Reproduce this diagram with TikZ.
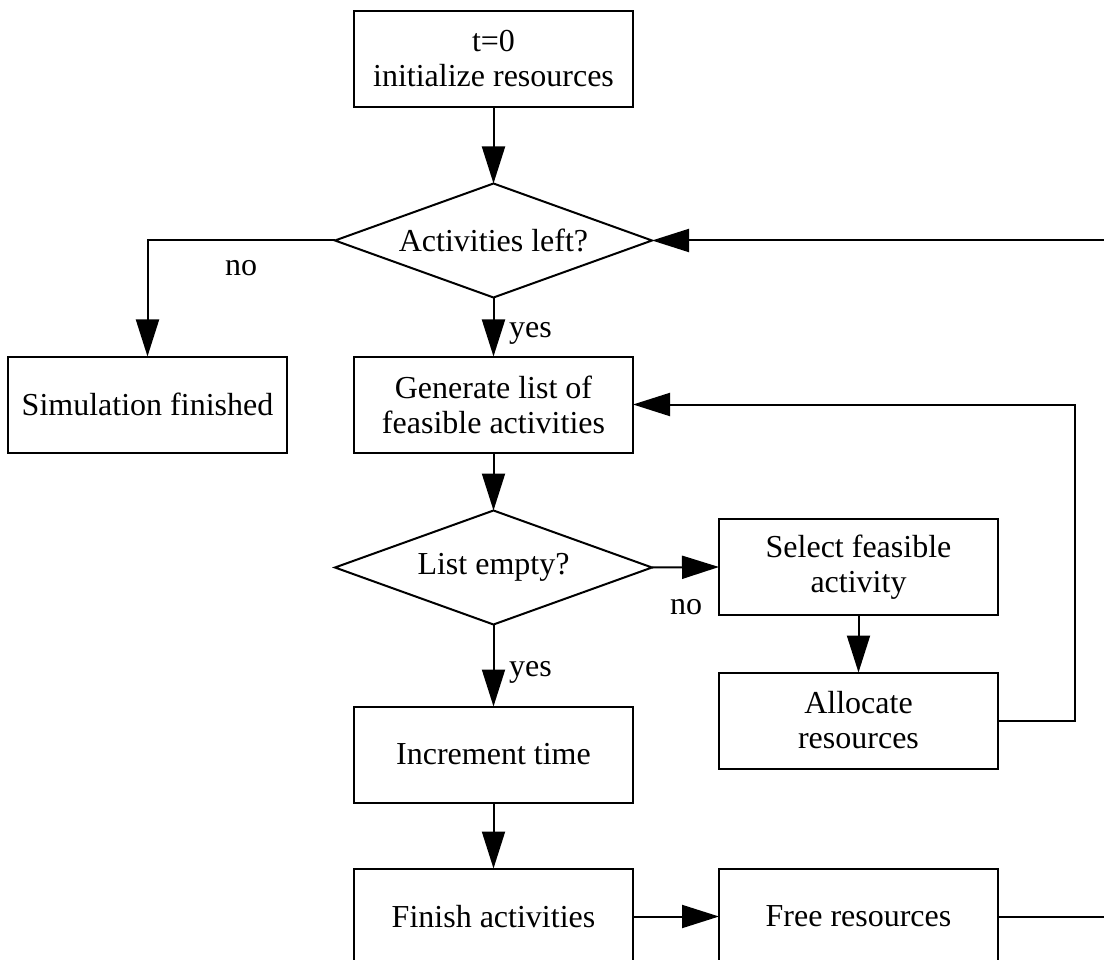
\documentclass[tikz,border=0pt]{standalone}
\usepackage{fontspec}
\setmainfont{Liberation Serif}
\usetikzlibrary{arrows.meta,shapes.geometric}
\begin{document}
\begin{tikzpicture}[x=1pt,y=-1pt,
  every node/.style={font=\fontsize{32}{35}\selectfont},
  box/.style={draw, line width=2pt, minimum width=279pt, minimum height=96pt,
    align=center, inner sep=0pt, outer sep=0pt},
  decision/.style={draw, diamond, aspect=2.78, line width=2pt, minimum width=317pt,
    minimum height=114pt, inner sep=0pt, outer sep=0pt, align=center},
  arr/.style={line width=2pt, -{Triangle[length=37pt,width=23pt]}},
  lbl/.style={inner sep=0pt}]
  \useasboundingbox (0,0) rectangle (1104,960);
  \clip (0,0) rectangle (1104,960);

  % process steps and decisions
  \node[box] (init) at (493.5,59) {t=0\\initialize resources};
  \node[decision] (d1) at (493.5,240.5) {Activities left?};
  \node[box] (sim) at (147.5,404.5) {Simulation finished};
  \node[box] (gen) at (493.5,404.5) {Generate list of\\feasible activities};
  \node[decision] (d2) at (493.5,567.5) {List empty?};
  \node[box] (sel) at (858.5,567) {Select feasible\\activity};
  \node[box] (alloc) at (858.5,720.5) {Allocate\\resources};
  \node[box] (inc) at (493.5,754.5) {Increment time};
  \node[box] (fin) at (493.5,916.5) {Finish activities};
  \node[box] (free) at (858.5,916.5) {Free resources};
  \coordinate (ret) at (1140,916.5);

  % connectors
  \draw[arr] (init) -- (d1);
  \draw[arr] (d1.west) -| (sim.north);
  \draw[arr] (d1) -- (gen);
  \draw[arr] (gen) -- (d2);
  \draw[arr] (d2.east) -- (sel.west);
  \draw[arr] (sel) -- (alloc);
  \draw[arr] (alloc.east) -- ++(77,0) |- (gen.east);
  \draw[arr] (d2) -- (inc);
  \draw[arr] (inc) -- (fin);
  \draw[arr] (fin) -- (free);
  \draw[arr] (free.east) -- (ret) |- (d1.east);

  % branch labels
  \node[lbl] (no1) at (241,268) {no};
  \node[lbl, anchor=west] (yes1) at (509,333) {yes};
  \node[lbl] (no2) at (686,607) {no};
  \node[lbl, anchor=west] (yes2) at (509,672) {yes};
\end{tikzpicture}
\end{document}
